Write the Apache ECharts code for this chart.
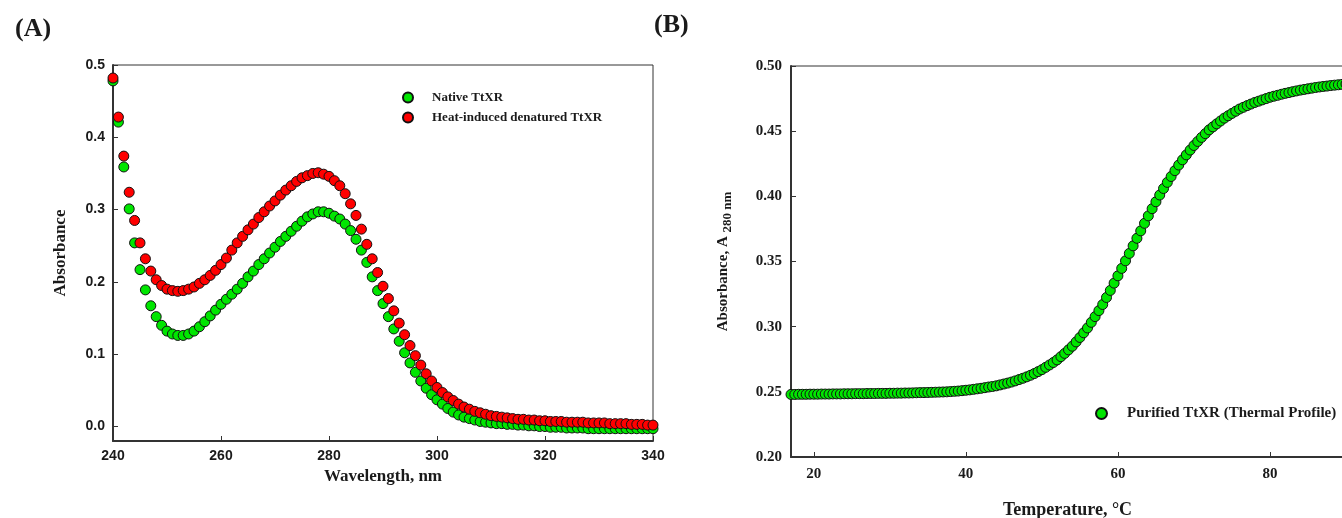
<!DOCTYPE html>
<html>
<head>
<meta charset="utf-8">
<script src="https://cdn.jsdelivr.net/npm/echarts@6/dist/echarts.min.js"></script>
<style>
html, body { margin: 0; padding: 0; background: #fff; }
#chart { width: 1342px; height: 518px; }
</style>
</head>
<body>
<div id="chart"></div>
<script>
// panel A: absorbance spectra
var wavelengths = [];
for (var w = 240; w <= 340; w++) wavelengths.push(w);

var nativeAbs = [
  0.478, 0.421, 0.359, 0.301, 0.254, 0.217, 0.189, 0.167, 0.152, 0.140,
  0.132, 0.128, 0.126, 0.126, 0.128, 0.132, 0.138, 0.145, 0.153, 0.161,
  0.169, 0.176, 0.183, 0.190, 0.198, 0.207, 0.215, 0.224, 0.232, 0.240,
  0.248, 0.256, 0.263, 0.270, 0.277, 0.284, 0.290, 0.294, 0.297, 0.297,
  0.295, 0.291, 0.287, 0.280, 0.271, 0.259, 0.244, 0.227, 0.207, 0.188,
  0.170, 0.152, 0.135, 0.118, 0.102, 0.088, 0.075, 0.063, 0.053, 0.044,
  0.037, 0.031, 0.025, 0.020, 0.016, 0.013, 0.011, 0.009, 0.007, 0.006,
  0.005, 0.004, 0.004, 0.003, 0.003, 0.002, 0.002, 0.001, 0.001, 0.000,
  0.000, -0.001, -0.001, -0.001, -0.002, -0.002, -0.002, -0.002, -0.003, -0.003,
  -0.003, -0.003, -0.003, -0.003, -0.003, -0.003, -0.003, -0.003, -0.003, -0.003,
  -0.003
];

var denaturedAbs = [
  0.482, 0.428, 0.374, 0.324, 0.285, 0.254, 0.232, 0.215, 0.203, 0.195,
  0.190, 0.188, 0.187, 0.188, 0.190, 0.193, 0.198, 0.203, 0.209, 0.216,
  0.224, 0.233, 0.244, 0.254, 0.263, 0.272, 0.280, 0.289, 0.297, 0.305,
  0.312, 0.320, 0.327, 0.333, 0.339, 0.344, 0.347, 0.350, 0.351, 0.349,
  0.346, 0.340, 0.333, 0.322, 0.308, 0.292, 0.273, 0.252, 0.232, 0.213,
  0.194, 0.177, 0.160, 0.143, 0.127, 0.112, 0.098, 0.085, 0.073, 0.063,
  0.054, 0.047, 0.041, 0.036, 0.031, 0.027, 0.024, 0.021, 0.019, 0.017,
  0.015, 0.014, 0.013, 0.012, 0.011, 0.010, 0.010, 0.009, 0.009, 0.008,
  0.008, 0.007, 0.007, 0.007, 0.006, 0.006, 0.006, 0.006, 0.005, 0.005,
  0.005, 0.005, 0.004, 0.004, 0.004, 0.004, 0.003, 0.003, 0.003, 0.002,
  0.002
];

// panel B: thermal profile at 280 nm
var temps = [
  17, 17.5, 18, 18.5, 19, 19.5, 20, 20.5, 21, 21.5, 22, 22.5, 23, 23.5, 24, 24.5,
  25, 25.5, 26, 26.5, 27, 27.5, 28, 28.5, 29, 29.5, 30, 30.5, 31, 31.5, 32, 32.5,
  33, 33.5, 34, 34.5, 35, 35.5, 36, 36.5, 37, 37.5, 38, 38.5, 39, 39.5, 40, 40.5,
  41, 41.5, 42, 42.5, 43, 43.5, 44, 44.5, 45, 45.5, 46, 46.5, 47, 47.5, 48, 48.5,
  49, 49.5, 50, 50.5, 51, 51.5, 52, 52.5, 53, 53.5, 54, 54.5, 55, 55.5, 56, 56.5,
  57, 57.5, 58, 58.5, 59, 59.5, 60, 60.5, 61, 61.5, 62, 62.5, 63, 63.5, 64, 64.5,
  65, 65.5, 66, 66.5, 67, 67.5, 68, 68.5, 69, 69.5, 70, 70.5, 71, 71.5, 72, 72.5,
  73, 73.5, 74, 74.5, 75, 75.5, 76, 76.5, 77, 77.5, 78, 78.5, 79, 79.5, 80, 80.5,
  81, 81.5, 82, 82.5, 83, 83.5, 84, 84.5, 85, 85.5, 86, 86.5, 87, 87.5, 88, 88.5,
  89, 89.5, 90, 90.5, 91, 91.5, 92
];

var thermalAbs = [
  0.2480, 0.2480, 0.2481, 0.2481, 0.2481, 0.2482, 0.2482, 0.2482, 0.2483, 0.2483, 0.2483, 0.2484, 0.2484, 0.2484, 0.2485, 0.2485,
  0.2485, 0.2486, 0.2486, 0.2486, 0.2487, 0.2487, 0.2487, 0.2488, 0.2488, 0.2488, 0.2489, 0.2489, 0.2490, 0.2490, 0.2491, 0.2491,
  0.2492, 0.2493, 0.2494, 0.2494, 0.2495, 0.2496, 0.2497, 0.2498, 0.2499, 0.2500, 0.2502, 0.2504, 0.2506, 0.2509, 0.2512, 0.2515,
  0.2519, 0.2523, 0.2527, 0.2532, 0.2537, 0.2541, 0.2546, 0.2553, 0.2560, 0.2567, 0.2575, 0.2584, 0.2594, 0.2604, 0.2615, 0.2627,
  0.2640, 0.2655, 0.2670, 0.2688, 0.2706, 0.2725, 0.2745, 0.2770, 0.2795, 0.2822, 0.2850, 0.2883, 0.2917, 0.2953, 0.2990, 0.3033,
  0.3077, 0.3123, 0.3170, 0.3224, 0.3278, 0.3334, 0.3390, 0.3447, 0.3505, 0.3562, 0.3620, 0.3678, 0.3735, 0.3793, 0.3850, 0.3905,
  0.3958, 0.4010, 0.4060, 0.4107, 0.4152, 0.4197, 0.4240, 0.4280, 0.4318, 0.4355, 0.4390, 0.4421, 0.4452, 0.4481, 0.4510, 0.4533,
  0.4556, 0.4578, 0.4600, 0.4618, 0.4636, 0.4653, 0.4670, 0.4683, 0.4696, 0.4708, 0.4720, 0.4730, 0.4740, 0.4750, 0.4760, 0.4768,
  0.4775, 0.4783, 0.4790, 0.4796, 0.4803, 0.4809, 0.4815, 0.4820, 0.4825, 0.4830, 0.4835, 0.4839, 0.4843, 0.4846, 0.4850, 0.4853,
  0.4856, 0.4859, 0.4862, 0.4865, 0.4867, 0.4870, 0.4872
];

var xTicksA = [240, 260, 280, 300, 320, 340];
var yTicksA = [0, 0.1, 0.2, 0.3, 0.4, 0.5];
var xTicksB = [20, 40, 60, 80];
var yTicksB = [0.20, 0.25, 0.30, 0.35, 0.40, 0.45, 0.50];

function pairs(xs, ys) {
  var out = [];
  for (var i = 0; i < ys.length; i++) out.push([xs[i], ys[i]]);
  return out;
}

var serif = 'Liberation Serif';
var sans = 'Liberation Sans';
var ink = '#1a1a1a';

var chart = echarts.init(document.getElementById('chart'));
chart.setOption({
  animation: false,
  backgroundColor: '#fff',
  title: [
    { text: '(A)', left: 10, top: 11, textStyle: { fontFamily: serif, fontWeight: 'bold', fontSize: 26, color: ink } },
    { text: '(B)', left: 649, top: 7, textStyle: { fontFamily: serif, fontWeight: 'bold', fontSize: 26, color: ink } }
  ],
  legend: [
    {
      orient: 'vertical', left: 397, top: 86, itemWidth: 10, itemHeight: 10, itemGap: 7,
      icon: 'circle', data: ['Native TtXR', 'Heat-induced denatured TtXR'],
      textStyle: { fontFamily: serif, fontWeight: 'bold', fontSize: 13, color: ink, padding: [0, 0, 0, 14] }
    },
    {
      left: 1090, top: 401, itemWidth: 11, itemHeight: 11, icon: 'circle',
      data: ['Purified TtXR (Thermal Profile)'],
      textStyle: { fontFamily: serif, fontWeight: 'bold', fontSize: 15, color: ink, padding: [0, 0, 0, 15] }
    }
  ],
  grid: [
    { left: 113, top: 65, width: 540, height: 376, show: true, borderColor: '#333', borderWidth: 1, outerBoundsMode: 'none' },
    { left: 791, top: 66, width: 593, height: 391, show: true, borderColor: '#333', borderWidth: 1, outerBoundsMode: 'none' }
  ],
  xAxis: [
    {
      gridIndex: 0, type: 'value', min: 240, max: 340,
      name: 'Wavelength, nm', nameLocation: 'middle', nameGap: 26,
      nameTextStyle: { fontFamily: serif, fontWeight: 'bold', fontSize: 17, color: ink },
      axisLine: { onZero: false, lineStyle: { color: '#333', width: 2 } },
      axisTick: { inside: true, length: 5, customValues: xTicksA, lineStyle: { color: '#333' } },
      axisLabel: { customValues: xTicksA, fontFamily: sans, fontWeight: 'bold', fontSize: 14, color: ink, margin: 8 },
      splitLine: { show: false }
    },
    {
      gridIndex: 1, type: 'value', min: 17, max: 95,
      name: 'Temperature, °C', nameLocation: 'middle', nameGap: 44,
      nameTextStyle: { fontFamily: serif, fontWeight: 'bold', fontSize: 18, color: ink, padding: [0, 40, 0, 0] },
      axisLine: { onZero: false, lineStyle: { color: '#333', width: 2 } },
      axisTick: { inside: true, length: 5, customValues: xTicksB, lineStyle: { color: '#333' } },
      axisLabel: { customValues: xTicksB, fontFamily: serif, fontWeight: 'bold', fontSize: 15, color: ink, margin: 10 },
      splitLine: { show: false }
    }
  ],
  yAxis: [
    {
      gridIndex: 0, type: 'value', min: -0.02, max: 0.5,
      name: 'Absorbance', nameLocation: 'middle', nameGap: 44, nameRotate: 90,
      nameTextStyle: { fontFamily: serif, fontWeight: 'bold', fontSize: 17, color: ink },
      axisLine: { onZero: false, lineStyle: { color: '#333', width: 2 } },
      axisTick: { inside: true, length: 5, customValues: yTicksA, lineStyle: { color: '#333' } },
      axisLabel: {
        customValues: yTicksA, fontFamily: sans, fontWeight: 'bold', fontSize: 14, color: ink, margin: 8,
        formatter: function (v) { return v.toFixed(1); }
      },
      splitLine: { show: false }
    },
    {
      gridIndex: 1, type: 'value', min: 0.2, max: 0.5,
      name: '{m|Absorbance, A }{s|280 nm}', nameLocation: 'middle', nameGap: 57, nameRotate: 90,
      nameTextStyle: {
        color: ink,
        rich: {
          m: { fontFamily: serif, fontWeight: 'bold', fontSize: 15, color: ink },
          s: { fontFamily: serif, fontWeight: 'bold', fontSize: 13, color: ink, padding: [8, 0, 0, 0] }
        }
      },
      axisLine: { onZero: false, lineStyle: { color: '#333', width: 2 } },
      axisTick: { inside: true, length: 5, customValues: yTicksB, lineStyle: { color: '#333' } },
      axisLabel: {
        customValues: yTicksB, fontFamily: serif, fontWeight: 'bold', fontSize: 15, color: ink, margin: 9,
        formatter: function (v) { return v.toFixed(2); }
      },
      splitLine: { show: false }
    }
  ],
  series: [
    {
      name: 'Native TtXR', type: 'scatter', xAxisIndex: 0, yAxisIndex: 0,
      symbol: 'circle', symbolSize: 10, data: pairs(wavelengths, nativeAbs),
      itemStyle: { color: '#00e600', borderColor: '#111', borderWidth: 1, opacity: 1 }
    },
    {
      name: 'Heat-induced denatured TtXR', type: 'scatter', xAxisIndex: 0, yAxisIndex: 0,
      symbol: 'circle', symbolSize: 10, data: pairs(wavelengths, denaturedAbs),
      itemStyle: { color: '#ff0000', borderColor: '#111', borderWidth: 1, opacity: 1 }
    },
    {
      name: 'Purified TtXR (Thermal Profile)', type: 'scatter', xAxisIndex: 1, yAxisIndex: 1,
      symbol: 'circle', symbolSize: 10, data: pairs(temps, thermalAbs),
      itemStyle: { color: '#00e600', borderColor: '#111', borderWidth: 1, opacity: 1 }
    }
  ]
});
</script>
</body>
</html>
